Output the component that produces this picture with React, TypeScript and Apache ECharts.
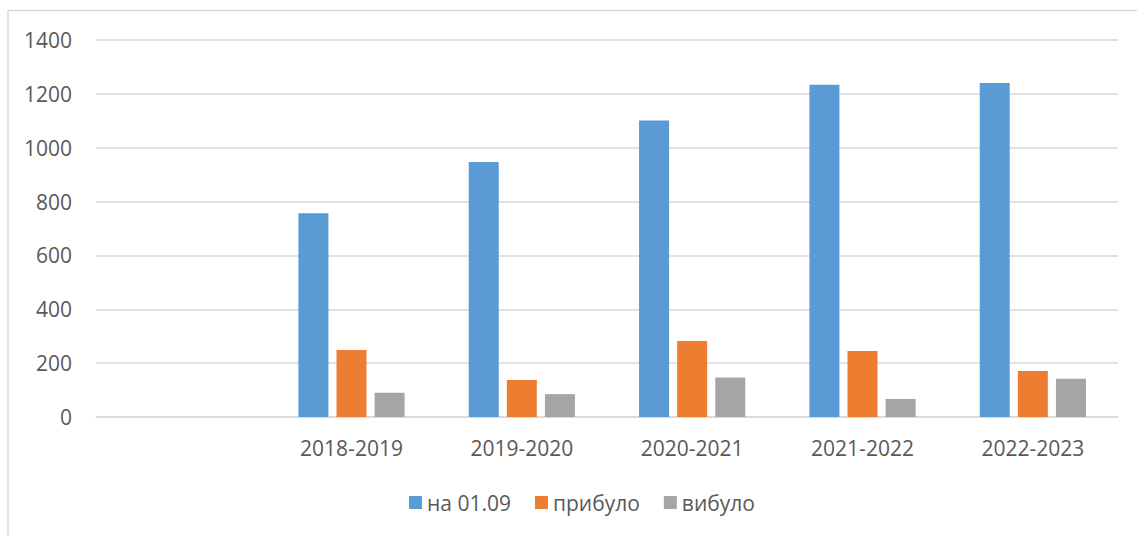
import React, { useEffect, useRef } from "react";
import * as echarts from "echarts";

const categories = ["", "2018-2019", "2019-2020", "2020-2021", "2021-2022", "2022-2023"];
const seriesNames = ["на 01.09", "прибуло", "вибуло"];
const onSept1 = [null, 757, 947, 1101, 1234, 1240];
const arrived = [null, 249, 137, 282, 245, 171];
const left = [null, 90, 85, 147, 67, 142];
const colors = ["#5b9bd5", "#ed7d31", "#a5a5a5"];

const FONT = "'Open Sans', 'Liberation Sans', sans-serif";

export default function App() {
  const ref = useRef<HTMLDivElement>(null);
  useEffect(() => {
    if (!ref.current) return;
    const chart = echarts.init(ref.current, null, { renderer: "svg" });
    const data = [onSept1, arrived, left];
    chart.setOption({
      animation: false,
      backgroundColor: "#ffffff",
      textStyle: { fontFamily: FONT },
      grid: { left: 96, right: 19, top: 40, bottom: 118, containLabel: false, outerBoundsMode: "none" },
      legend: {
        data: seriesNames,
        bottom: 17,
        left: 404,
        itemWidth: 13,
        itemHeight: 13,
        itemGap: 24,
        icon: "rect",
        textStyle: { color: "#595959", fontSize: 21, fontFamily: FONT },
      },
      xAxis: {
        type: "category",
        data: categories,
        axisLine: { show: true, lineStyle: { color: "#d9d9d9", width: 1.5 } },
        axisTick: { show: false },
        axisLabel: { color: "#595959", fontSize: 21, margin: 20, fontFamily: FONT, interval: 0 },
      },
      yAxis: {
        type: "value",
        min: 0,
        max: 1400,
        interval: 200,
        axisLine: { show: false },
        axisTick: { show: false },
        axisLabel: {
          color: "#595959",
          fontSize: 21,
          margin: 24,
          fontFamily: FONT,
          formatter: (v: number) => String(v),
        },
        splitLine: { lineStyle: { color: "#d9d9d9", width: 1.5 } },
      },
      graphic: [
        {
          type: "polyline",
          shape: { points: [[8, 535], [8, 10.5], [1137, 10.5]] },
          style: { stroke: "#d9d9d9", lineWidth: 1.5, fill: "none" },
          silent: true,
        },
      ],
      series: seriesNames.map((name, i) => ({
        name,
        type: "bar",
        data: data[i],
        barWidth: 30,
        barGap: "27%",
        itemStyle: { color: colors[i] },
      })),
    });
    return () => chart.dispose();
  }, []);
  return (
    <div
      ref={ref}
      style={{ position: "fixed", left: 0, top: 0, width: 1137, height: 535 }}
    />
  );
}
